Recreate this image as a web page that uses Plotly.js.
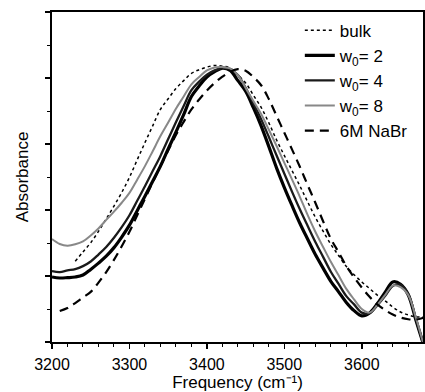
<!DOCTYPE html>
<html>
<head>
<meta charset="utf-8">
<script src="https://cdn.plot.ly/plotly-3.0.1.min.js"></script>
<style>html,body{margin:0;padding:0;background:#fff;}#chart{width:425px;height:392px;}</style>
</head>
<body>
<div id="chart"></div>
<script>
// Frequency grid (cm-1)
const freq = [3200,3210,3220,3230,3240,3250,3260,3270,3280,3290,3300,3310,3320,3330,3340,3350,3360,3370,3380,3390,3400,3410,3420,3430,3440,3450,3460,3470,3480,3490,3500,3510,3520,3530,3540,3550,3560,3570,3580,3590,3600,3610,3620,3630,3640,3650,3660,3670,3680];
const freqBulk = freq.slice(3);
const freqNaBr = freq.slice(1);

const bulk = [0.245,0.273,0.301,0.335,0.373,0.412,0.453,0.499,0.552,0.604,0.655,0.705,0.737,0.768,0.792,0.814,0.825,0.833,0.838,0.836,0.830,0.809,0.785,0.748,0.711,0.664,0.612,0.565,0.519,0.473,0.425,0.378,0.336,0.296,0.262,0.229,0.204,0.182,0.162,0.142,0.125,0.106,0.091,0.082,0.076,0.076];
const w2 = [0.197,0.194,0.195,0.197,0.203,0.220,0.239,0.260,0.286,0.318,0.354,0.398,0.442,0.487,0.533,0.585,0.636,0.689,0.744,0.776,0.803,0.819,0.830,0.823,0.792,0.760,0.710,0.655,0.592,0.527,0.468,0.413,0.360,0.312,0.265,0.224,0.184,0.152,0.120,0.095,0.079,0.088,0.116,0.150,0.182,0.175,0.142,0.065,-0.010];
const w4 = [0.215,0.212,0.217,0.221,0.230,0.244,0.265,0.288,0.316,0.348,0.384,0.428,0.472,0.518,0.564,0.615,0.666,0.715,0.763,0.789,0.810,0.823,0.830,0.827,0.809,0.770,0.723,0.675,0.621,0.565,0.510,0.455,0.402,0.352,0.303,0.258,0.213,0.176,0.139,0.114,0.089,0.087,0.111,0.139,0.170,0.173,0.147,0.067,-0.010];
const w8 = [0.312,0.297,0.292,0.296,0.305,0.323,0.344,0.370,0.395,0.422,0.452,0.492,0.533,0.578,0.624,0.665,0.707,0.744,0.781,0.803,0.823,0.832,0.833,0.829,0.809,0.770,0.730,0.691,0.643,0.594,0.543,0.492,0.440,0.385,0.334,0.288,0.243,0.202,0.161,0.129,0.100,0.089,0.112,0.142,0.171,0.166,0.142,0.073,-0.010];
const nabr = [0.094,0.103,0.118,0.135,0.152,0.180,0.212,0.249,0.290,0.334,0.384,0.434,0.484,0.533,0.580,0.627,0.667,0.705,0.735,0.762,0.785,0.804,0.819,0.827,0.822,0.803,0.778,0.736,0.685,0.634,0.583,0.531,0.476,0.422,0.366,0.313,0.272,0.230,0.196,0.165,0.137,0.114,0.097,0.083,0.074,0.069,0.068,0.074];

const names = ['bulk','w<sub>0</sub>= 2','w<sub>0</sub>= 4','w<sub>0</sub>= 8','6M NaBr'];
const xTicks = [3200,3300,3400,3500,3600];

const traces = [
  {x: freqBulk, y: bulk, name: names[0], mode:'lines', line:{color:'#000', width:1.5, dash:'dot', shape:'spline'}},
  {x: freq, y: w2, name: names[1], mode:'lines', line:{color:'#000', width:3.2, shape:'spline'}},
  {x: freq, y: w4, name: names[2], mode:'lines', line:{color:'#1a1a1a', width:2.3, shape:'spline'}},
  {x: freq, y: w8, name: names[3], mode:'lines', line:{color:'#888', width:2, shape:'spline'}},
  {x: freqNaBr, y: nabr, name: names[4], mode:'lines', line:{color:'#000', width:2.2, dash:'9px,6px', shape:'spline'}}
];

const font = {family:'"Liberation Sans", Arial, sans-serif', size:17, color:'#000'};
const tickFont = {family:'"Liberation Sans", Arial, sans-serif', size:16, color:'#000'};
const layout = {
  width:425, height:392,
  margin:{l:52, r:2, t:12, b:50},
  paper_bgcolor:'#fff', plot_bgcolor:'#fff',
  font: font,
  showlegend:true,
  legend:{x:0.668, y:0.998, xanchor:'left', yanchor:'top', bgcolor:'rgba(0,0,0,0)', font:font, tracegroupgap:0},
  xaxis:{
    range:[3200,3679], tickmode:'array', tickvals:xTicks, ticktext:xTicks.map(String),
    ticks:'outside', ticklen:5, tickwidth:1.5, tickcolor:'#000', ticklabelstandoff:2,
    minor:{dtick:20, ticks:'outside', ticklen:3, tickcolor:'#000', tickwidth:1},
    showline:true, linecolor:'#000', linewidth:2, mirror:true,
    showgrid:false, zeroline:false, tickfont:tickFont,
    title:{text:'Frequency (cm\u207B\u00B9)', font:font, standoff:2}
  },
  yaxis:{
    range:[0,1], tickmode:'linear', tick0:0, dtick:0.2, showticklabels:false,
    ticks:'outside', ticklen:5, tickwidth:1.5, tickcolor:'#000',
    minor:{dtick:0.1, ticks:'outside', ticklen:3, tickcolor:'#000', tickwidth:1},
    showline:true, linecolor:'#000', linewidth:2, mirror:true,
    showgrid:false, zeroline:false,
    title:{text:'Absorbance', font:font, standoff:12}
  }
};
Plotly.newPlot('chart', traces, layout, {staticPlot:true, displayModeBar:false});
</script>
</body>
</html>
